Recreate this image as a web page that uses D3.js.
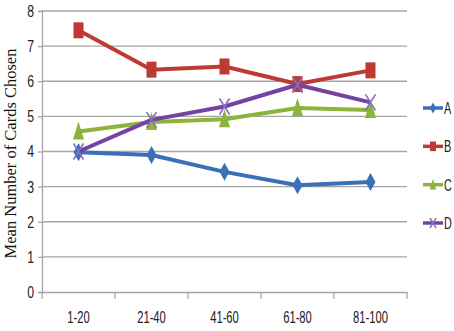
<!DOCTYPE html>
<html>
<head>
<meta charset="utf-8">
<script src="https://cdn.jsdelivr.net/npm/d3@7"></script>
<style>
  html, body { margin: 0; padding: 0; background: #fff; }
  svg { display: block; }
</style>
</head>
<body>
<div id="chart"></div>
<script>
// Data
const categories = ['1-20', '21-40', '41-60', '61-80', '81-100'];
const seriesNames = ['A', 'B', 'C', 'D'];
const valuesA = [3.98, 3.9, 3.42, 3.04, 3.13];
const valuesB = [7.45, 6.33, 6.42, 5.92, 6.31];
const valuesC = [4.57, 4.84, 4.92, 5.24, 5.18];
const valuesD = [4.0, 4.9, 5.28, 5.9, 5.4];
const yTicks = [0, 1, 2, 3, 4, 5, 6, 7, 8];
const yTitle = 'Mean Number of Cards Chosen';

const seriesValues = [valuesA, valuesB, valuesC, valuesD];
const colors = ['#3b6fb9', '#be3a32', '#8bb43b', '#7443a1'];
const markerTypes = ['diamond', 'square', 'triangle', 'cross'];

const width = 454, height = 331;
const margin = { top: 11, right: 47, bottom: 39, left: 42 };
const innerW = width - margin.left - margin.right;
const innerH = height - margin.top - margin.bottom;

const svg = d3.select('#chart').append('svg')
  .attr('width', width)
  .attr('height', height);

const g = svg.append('g')
  .attr('transform', `translate(${margin.left},${margin.top})`);

// Scales
const x = d3.scaleBand().domain(categories).range([0, innerW]);
const y = d3.scaleLinear().domain([0, 8]).range([innerH, 0]);

// no narrow font installed, so squeeze the sans text horizontally
const sans = '"Liberation Sans", Arial, sans-serif';

// Horizontal gridlines
g.append('g')
  .selectAll('line')
  .data(yTicks.filter(d => d > 0))
  .join('line')
  .attr('x1', 0)
  .attr('x2', innerW)
  .attr('y1', d => y(d))
  .attr('y2', d => y(d))
  .attr('stroke', '#a6a6a6')
  .attr('stroke-width', 1.3);

// Y axis
const yAxis = g.append('g')
  .call(d3.axisLeft(y).tickValues(yTicks).tickSize(4).tickPadding(0));
yAxis.select('.domain').attr('stroke', '#a6a6a6').attr('stroke-width', 1.3);
yAxis.selectAll('.tick line').attr('stroke', '#a6a6a6').attr('stroke-width', 1.3);
yAxis.selectAll('.tick text')
  .attr('x', 0)
  .attr('font-family', sans)
  .attr('font-size', 17)
  .attr('fill', '#222')
  .attr('transform', 'translate(-8,0) scale(0.72,1)');

// X axis with ticks between categories
const xAxis = g.append('g')
  .attr('transform', `translate(0,${innerH})`)
  .call(d3.axisBottom(x).tickSize(0).tickPadding(19));
xAxis.select('.domain').attr('stroke', '#a6a6a6').attr('stroke-width', 1.3);
xAxis.selectAll('.tick text')
  .attr('font-family', sans)
  .attr('font-size', 17)
  .attr('fill', '#222')
  .attr('transform', 'scale(0.66,1)');

const bounds = categories.map(c => x(c)).concat([innerW]);
xAxis.append('g')
  .selectAll('line')
  .data(bounds)
  .join('line')
  .attr('x1', d => d)
  .attr('x2', d => d)
  .attr('y1', 0)
  .attr('y2', 7)
  .attr('stroke', '#a6a6a6')
  .attr('stroke-width', 1.3);

// Y axis title
svg.append('text')
  .attr('transform', `translate(16,${margin.top + innerH / 2 + 2}) rotate(-90)`)
  .attr('text-anchor', 'middle')
  .attr('font-family', '"Liberation Serif", "Times New Roman", serif')
  .attr('font-size', 16.5)
  .attr('fill', '#111')
  .text(yTitle);

// Marker drawing helper (s = scale factor)
function drawMarker(sel, type, color, s) {
  if (type === 'diamond') {
    sel.append('path')
      .attr('d', `M0,${-9 * s}L${5 * s},0L0,${9 * s}L${-5 * s},0Z`)
      .attr('fill', color);
  } else if (type === 'square') {
    sel.append('rect')
      .attr('x', -5 * s).attr('y', -8 * s)
      .attr('width', 10 * s).attr('height', 16 * s)
      .attr('fill', color);
  } else if (type === 'triangle') {
    sel.append('path')
      .attr('d', `M0,${-10 * s}L${5.5 * s},${8 * s}L${-5.5 * s},${8 * s}Z`)
      .attr('fill', color);
  } else {
    sel.append('path')
      .attr('d', `M${-5 * s},${-8 * s}L${5 * s},${8 * s}M${5 * s},${-8 * s}L${-5 * s},${8 * s}`)
      .attr('stroke', '#8a6cc0')
      .attr('stroke-width', 1.6)
      .attr('fill', 'none');
  }
}

// Lines and markers
const line = d3.line()
  .x((d, i) => x(categories[i]) + x.bandwidth() / 2)
  .y(d => y(d));

seriesValues.forEach((vals, si) => {
  const sg = g.append('g');
  sg.append('path')
    .datum(vals)
    .attr('d', line)
    .attr('fill', 'none')
    .attr('stroke', colors[si])
    .attr('stroke-width', 4)
    .attr('stroke-linejoin', 'round');
  vals.forEach((v, i) => {
    const m = sg.append('g')
      .attr('transform', `translate(${x(categories[i]) + x.bandwidth() / 2},${y(v)})`);
    drawMarker(m, markerTypes[si], colors[si], 1);
  });
});

// Legend
const legendY = d3.scalePoint().domain(seriesNames).range([108, 223]);
const legend = svg.append('g');
seriesNames.forEach((name, si) => {
  const lg = legend.append('g').attr('transform', `translate(423,${legendY(name)})`);
  lg.append('line')
    .attr('x1', 0).attr('x2', 20)
    .attr('y1', 0).attr('y2', 0)
    .attr('stroke', colors[si])
    .attr('stroke-width', 3.5);
  const m = lg.append('g').attr('transform', 'translate(10,0)');
  drawMarker(m, markerTypes[si], colors[si], 0.6);
  lg.append('text')
    .attr('transform', 'translate(21,6) scale(0.68,1)')
    .attr('font-family', sans)
    .attr('font-size', 16)
    .attr('fill', '#222')
    .text(name);
});
</script>
</body>
</html>
